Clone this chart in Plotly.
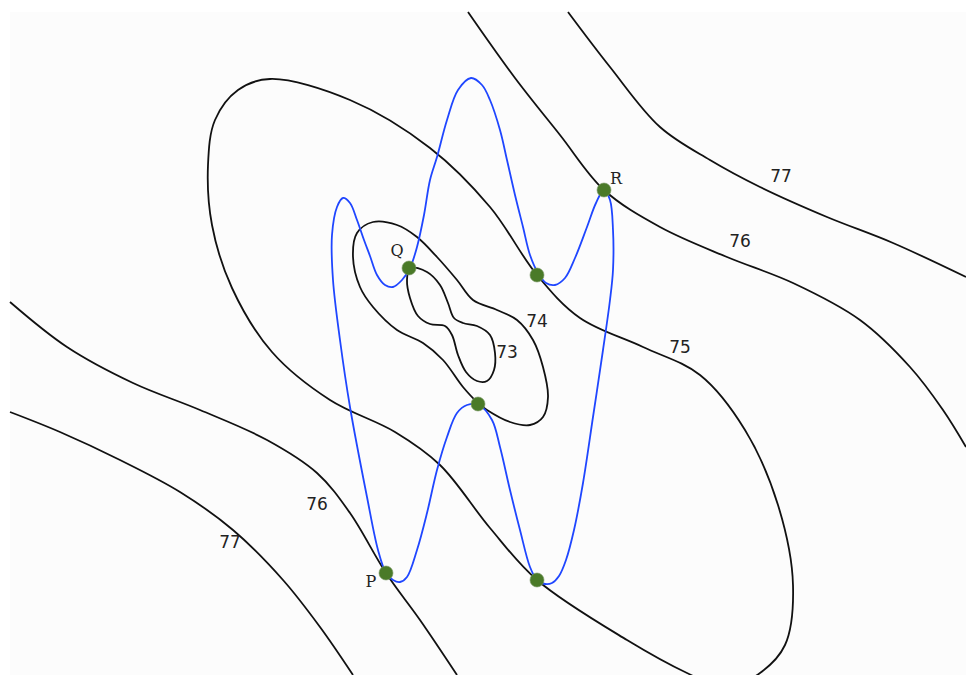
import plotly.graph_objects as go

# Isolines of the field (x, y in drawing units; y grows downward)
iso77_upper_x = [568, 610, 660, 710, 760, 827, 893, 966]
iso77_upper_y = [12, 67, 127, 160, 187, 217, 243, 277]

iso76_upper_x = [468, 515, 560, 604, 660, 727, 793, 860, 910, 943, 966]
iso76_upper_y = [12, 78, 135, 190, 227, 257, 283, 320, 367, 410, 447]

iso77_lower_x = [10, 60, 120, 180, 233, 283, 320, 353]
iso77_lower_y = [412, 432, 460, 492, 530, 580, 627, 675]

iso76_lower_x = [10, 67, 133, 200, 267, 317, 350, 386, 420, 457]
iso76_lower_y = [302, 347, 383, 410, 440, 473, 513, 573, 620, 675]

iso75_x = [270, 350, 430, 490, 537, 580, 643, 700, 745, 778, 793, 785, 760, 725, 687,
           627, 537, 490, 440, 395, 330, 272, 232, 212, 208, 215, 238, 270]
iso75_y = [79, 100, 148, 207, 275, 318, 347, 375, 430, 505, 585, 645, 673, 688, 673,
           640, 580, 528, 465, 432, 400, 352, 288, 225, 165, 120, 90, 79]

iso74_x = [373, 397, 417, 437, 457, 473, 497, 517, 533, 543, 548, 543, 530, 510, 487, 478,
           463, 443, 423, 397, 373, 360, 353, 357, 373]
iso74_y = [222, 225, 237, 257, 280, 300, 310, 320, 340, 367, 397, 417, 425, 422, 410, 403,
           387, 360, 343, 330, 307, 287, 257, 233, 222]

iso73_x = [410, 427, 440, 448, 454, 463, 477, 490, 495, 494, 487, 477, 466, 458, 452, 445,
           430, 418, 410, 407, 410]
iso73_y = [268, 272, 285, 303, 318, 323, 326, 335, 353, 370, 381, 381, 372, 355, 335, 326,
           324, 316, 298, 280, 268]

# Closed path through the six marked points
path_x = [386, 378, 367, 350, 340, 333, 332, 337, 343, 350, 357, 364, 370, 377, 385, 393, 402,
          410, 417, 424, 430, 437, 447, 458, 471, 482, 490, 500, 507, 515, 523, 530, 538,
          546, 555, 565, 575, 587, 596, 604, 610, 613, 613, 610, 603, 593, 583, 574, 566,
          559, 552, 545, 537, 530, 520, 510, 500, 492, 479, 467, 457, 447, 437, 427, 417,
          407, 400, 393, 386]
path_y = [573, 550, 497, 407, 340, 280, 235, 207, 198, 203, 220, 240, 256, 275, 285, 287, 280,
          268, 247, 215, 180, 157, 120, 90, 78, 85, 100, 130, 160, 195, 227, 255, 273,
          283, 285, 278, 258, 227, 203, 190, 200, 230, 270, 300, 350, 417, 483, 530, 560,
          576, 583, 584, 580, 567, 530, 490, 447, 420, 405, 405, 413, 437, 470, 513, 550,
          577, 582, 580, 573]

# Marked points
pt_x = [386, 409, 604, 537, 478, 537]
pt_y = [573, 268, 190, 275, 404, 580]

# Point names
name_x = [371, 397, 616]
name_y = [583, 252, 180]
name_text = ["P", "Q", "R"]

# Isoline value labels
val_x = [781, 740, 680, 537, 507, 317, 230]
val_y = [178, 243, 349, 323, 354, 506, 544]
val_text = ["77", "76", "75", "74", "73", "76", "77"]

fig = go.Figure()

iso_lines = [
    (iso77_upper_x, iso77_upper_y),
    (iso76_upper_x, iso76_upper_y),
    (iso77_lower_x, iso77_lower_y),
    (iso76_lower_x, iso76_lower_y),
    (iso75_x, iso75_y),
    (iso74_x, iso74_y),
    (iso73_x, iso73_y),
]
for xs, ys in iso_lines:
    fig.add_trace(go.Scatter(
        x=xs, y=ys, mode="lines",
        line=dict(color="#111111", width=1.8, shape="spline", smoothing=1.0),
        hoverinfo="skip", showlegend=False,
    ))

fig.add_trace(go.Scatter(
    x=path_x, y=path_y, mode="lines",
    line=dict(color="#1f46ff", width=1.8, shape="spline", smoothing=1.0),
    hoverinfo="skip", showlegend=False,
))

fig.add_trace(go.Scatter(
    x=pt_x, y=pt_y, mode="markers",
    marker=dict(size=14, color="#4a7a28", line=dict(color="rgba(120,150,100,0.6)", width=1)),
    hoverinfo="skip", showlegend=False,
))

fig.add_trace(go.Scatter(
    x=name_x, y=name_y, mode="text", text=name_text,
    textfont=dict(family="DejaVu Serif", size=16, color="#222222"),
    hoverinfo="skip", showlegend=False,
))

fig.add_trace(go.Scatter(
    x=val_x, y=val_y, mode="text", text=val_text,
    textfont=dict(family="DejaVu Sans", size=17, color="#222222"),
    hoverinfo="skip", showlegend=False,
))

fig.update_layout(
    width=966, height=675,
    margin=dict(l=0, r=0, t=0, b=0),
    paper_bgcolor="white", plot_bgcolor="white",
    shapes=[dict(type="rect", xref="x", yref="y", x0=10, y0=12, x1=966, y1=675,
                 fillcolor="#fcfcfc", line=dict(width=0), layer="below")],
)
fig.update_xaxes(visible=False, range=[0, 966], fixedrange=True)
fig.update_yaxes(visible=False, range=[675, 0], fixedrange=True)

fig.write_html("out.html")
